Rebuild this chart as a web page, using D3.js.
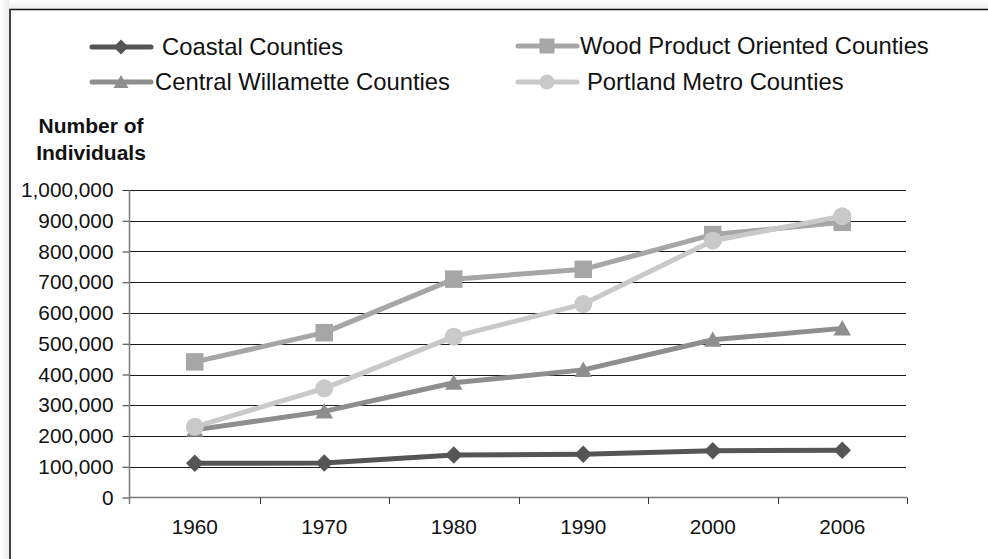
<!DOCTYPE html>
<html>
<head>
<meta charset="utf-8">
<script src="https://cdn.jsdelivr.net/npm/d3@7/dist/d3.min.js"></script>
<style>
  html, body { margin: 0; padding: 0; background: #fff; }
  svg { display: block; font-family: "Liberation Sans", Arial, sans-serif; }
</style>
</head>
<body>
<svg id="chart" width="988" height="559"></svg>
<script>
// Population by county group, 1960–2006
const years = ["1960", "1970", "1980", "1990", "2000", "2006"];
const coastal = [111000, 112000, 138000, 141000, 152000, 154000];
const woodProduct = [441000, 536000, 710000, 742000, 855000, 895000];
const centralWillamette = [220000, 280000, 373000, 415000, 513000, 550000];
const portlandMetro = [230000, 355000, 523000, 629000, 835000, 915000];
const yTicks = [0, 100000, 200000, 300000, 400000, 500000, 600000, 700000, 800000, 900000, 1000000];
const seriesNames = ["Coastal Counties", "Wood Product Oriented Counties", "Central Willamette Counties", "Portland Metro Counties"];
const yTitle = ["Number of", "Individuals"];

const series = [
  { name: seriesNames[0], values: coastal, color: "#555555", marker: "diamond" },
  { name: seriesNames[1], values: woodProduct, color: "#a6a6a6", marker: "square" },
  { name: seriesNames[2], values: centralWillamette, color: "#8e8e8e", marker: "triangle" },
  { name: seriesNames[3], values: portlandMetro, color: "#c9c9c9", marker: "circle" }
];

const svg = d3.select("#chart");

// frame: soft shade outside, dark rule on top and left
const defs = svg.append("defs");
const gTop = defs.append("linearGradient").attr("id", "shadeTop").attr("x1", 0).attr("y1", 0).attr("x2", 0).attr("y2", 1);
gTop.append("stop").attr("offset", "0%").attr("stop-color", "#ffffff");
gTop.append("stop").attr("offset", "100%").attr("stop-color", "#ececec");
const gLeft = defs.append("linearGradient").attr("id", "shadeLeft").attr("x1", 0).attr("y1", 0).attr("x2", 1).attr("y2", 0);
gLeft.append("stop").attr("offset", "0%").attr("stop-color", "#ffffff");
gLeft.append("stop").attr("offset", "100%").attr("stop-color", "#ececec");
svg.append("rect").attr("x", 0).attr("y", 0).attr("width", 988).attr("height", 9).attr("fill", "url(#shadeTop)");
svg.append("rect").attr("x", 0).attr("y", 0).attr("width", 9).attr("height", 559).attr("fill", "url(#shadeLeft)");
svg.append("line").attr("x1", 9).attr("x2", 988).attr("y1", 9.5).attr("y2", 9.5).attr("stroke", "#111").attr("stroke-width", 1.5);
svg.append("line").attr("x1", 10).attr("x2", 10).attr("y1", 9).attr("y2", 559).attr("stroke", "#444").attr("stroke-width", 2);

// scales
const x = d3.scaleBand().domain(years).range([130, 907]).paddingInner(0).paddingOuter(0);
const cx = d => x(d) + x.bandwidth() / 2;
const y = d3.scaleLinear().domain([0, 1000000]).range([497.5, 190]);

// horizontal gridlines
svg.append("g").selectAll("line").data(yTicks.filter(t => t > 0)).join("line")
  .attr("x1", 130).attr("x2", 906)
  .attr("y1", d => Math.round(y(d)) + 0.5).attr("y2", d => Math.round(y(d)) + 0.5)
  .attr("stroke", "#1a1a1a").attr("stroke-width", 1);

// y axis
const yAxis = svg.append("g").attr("transform", "translate(129.5,0)")
  .call(d3.axisLeft(y).tickValues(yTicks).tickSize(7).tickPadding(9).tickFormat(d3.format(",")));
yAxis.select(".domain").remove();
yAxis.selectAll(".tick line").attr("stroke", "#333");
yAxis.selectAll("text").attr("font-size", "20.8px").attr("fill", "#111").attr("font-family", "Liberation Sans, Arial, sans-serif");
svg.append("line").attr("x1", 129.5).attr("x2", 129.5).attr("y1", 190).attr("y2", 504)
  .attr("stroke", "#7a7a7a").attr("stroke-width", 1.5);

// x axis
svg.append("line").attr("x1", 129.5).attr("x2", 907).attr("y1", 497.5).attr("y2", 497.5)
  .attr("stroke", "#7a7a7a").attr("stroke-width", 1.5);
const bounds = years.map(d => x(d)).concat([x.range()[1]]).slice(1);
svg.append("g").selectAll("line").data(bounds).join("line")
  .attr("x1", d => Math.round(d) + 0.5).attr("x2", d => Math.round(d) + 0.5)
  .attr("y1", 497.5).attr("y2", 504).attr("stroke", "#333").attr("stroke-width", 1);
const xAxis = svg.append("g").attr("transform", "translate(0,497.5)")
  .call(d3.axisBottom(x).tickSize(0).tickPadding(22));
xAxis.select(".domain").remove();
xAxis.selectAll("text").attr("font-size", "20.8px").attr("fill", "#111").attr("font-family", "Liberation Sans, Arial, sans-serif");

// y axis title
svg.append("text").attr("x", 91).attr("y", 133).attr("text-anchor", "middle")
  .attr("font-size", "21px").attr("font-weight", "bold").attr("fill", "#111").text(yTitle[0]);
svg.append("text").attr("x", 91).attr("y", 160).attr("text-anchor", "middle")
  .attr("font-size", "21px").attr("font-weight", "bold").attr("fill", "#111").text(yTitle[1]);

// marker shapes
function markerPath(kind, s) {
  const h = s / 2;
  if (kind === "diamond") return `M0,${-h}L${h},0L0,${h}L${-h},0Z`;
  if (kind === "square") return `M${-h},${-h}H${h}V${h}H${-h}Z`;
  if (kind === "triangle") return `M0,${-h * 0.95}L${h},${h * 0.8}L${-h},${h * 0.8}Z`;
  return d3.arc()({ innerRadius: 0, outerRadius: h, startAngle: 0, endAngle: 2 * Math.PI });
}

// series lines and markers
const line = d3.line().x((d, i) => cx(years[i])).y(d => y(d));
series.forEach(s => {
  const g = svg.append("g");
  g.append("path").attr("d", line(s.values)).attr("fill", "none")
    .attr("stroke", s.color).attr("stroke-width", 5).attr("stroke-linejoin", "round");
  g.selectAll("path.m").data(s.values).join("path").attr("class", "m")
    .attr("transform", (d, i) => `translate(${cx(years[i])},${y(d)})`)
    .attr("d", markerPath(s.marker, s.marker === "circle" ? 18 : 17.5))
    .attr("fill", s.color);
});

// legend
const legendPos = [
  { x: 91, y: 47, tx: 162 },
  { x: 517, y: 46, tx: 580 },
  { x: 91, y: 82, tx: 155 },
  { x: 517, y: 82, tx: 587 }
];
series.forEach((s, i) => {
  const p = legendPos[i];
  const g = svg.append("g").attr("transform", `translate(${p.x},${p.y})`);
  g.append("line").attr("x1", 1).attr("x2", 60).attr("y1", 0).attr("y2", 0)
    .attr("stroke", s.color).attr("stroke-width", 5).attr("stroke-linecap", "round");
  g.append("path").attr("transform", "translate(30,0)")
    .attr("d", markerPath(s.marker, 15)).attr("fill", s.color);
  svg.append("text").attr("x", p.tx).attr("y", p.y + 8).attr("font-size", "23.8px").attr("fill", "#111")
    .text(s.name);
});
</script>
</body>
</html>
